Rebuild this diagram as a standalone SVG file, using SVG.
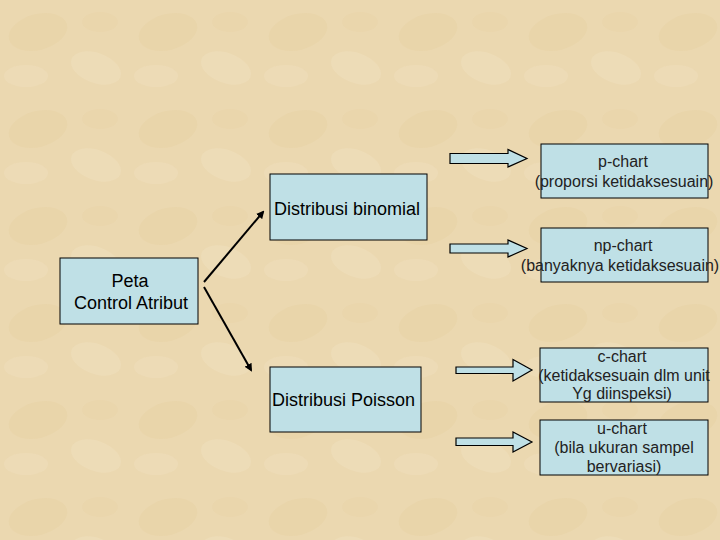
<svg xmlns="http://www.w3.org/2000/svg" width="720" height="540" viewBox="0 0 720 540">
<defs>
<style>
.box{fill:#bfe0e6;stroke:#000;stroke-width:1}
.blk{fill:#bfe0e6;stroke:#000;stroke-width:1.2}
.t{font-family:"Liberation Sans",Arial,sans-serif;font-size:18px;fill:#000}
.s{font-family:"Liberation Sans",Arial,sans-serif;font-size:16px;fill:#222;text-anchor:middle}
.ln{stroke:#000;stroke-width:2;fill:none;marker-end:url(#ah)}
</style>
<marker id="ah" markerWidth="8" markerHeight="8" refX="6" refY="4" orient="auto" markerUnits="userSpaceOnUse">
<path d="M0,0 L8,4 L0,8 Z" fill="#000"/>
</marker>
<pattern id="tex" width="130" height="97" patternUnits="userSpaceOnUse">
<rect width="130" height="97" fill="#ebd8b0"/>
<ellipse cx="38" cy="32" rx="30" ry="18" fill="#e3ca98" opacity="0.25" transform="rotate(-15 38 32)"/>
<ellipse cx="96" cy="68" rx="26" ry="15" fill="#f3e5c8" opacity="0.3" transform="rotate(20 96 68)"/>
<ellipse cx="100" cy="22" rx="18" ry="10" fill="#e4cc9c" opacity="0.2"/>
<ellipse cx="26" cy="76" rx="22" ry="11" fill="#f2e4c6" opacity="0.3"/>
</pattern>
</defs>
<rect width="720" height="540" fill="url(#tex)"/>
<g id="connectors">
<line class="ln" x1="204" y1="282" x2="263" y2="212"/>
<line class="ln" x1="204" y1="287" x2="251" y2="370"/>
<path class="blk" d="M450,153.5 H508 V149.5 L527,158.5 L508,167 V163.5 H450 Z"/>
<path class="blk" d="M450,244 H508 V240 L527,248.5 L508,257 V253 H450 Z"/>
<path class="blk" d="M456,367 H513 V359.5 L532,370 L513,381 V373.5 H456 Z"/>
<path class="blk" d="M456,438 H513 V432 L532,442 L513,452 V445.5 H456 Z"/>
</g>
<g id="peta">
<rect class="box" x="60" y="258" width="138" height="66"/>
<text class="t" x="130" y="287" text-anchor="middle">Peta</text>
<text class="t" x="131" y="309" text-anchor="middle">Control Atribut</text>
</g>
<g id="binomial">
<rect class="box" x="270" y="174" width="157" height="66"/>
<text class="t" x="274" y="215">Distribusi binomial</text>
</g>
<g id="poisson">
<rect class="box" x="270" y="367" width="151" height="65"/>
<text class="t" x="272" y="406">Distribusi Poisson</text>
</g>
<g id="pchart">
<rect class="box" x="541" y="144" width="167" height="54"/>
<text class="s" x="623" y="167">p-chart</text>
<text class="s" x="624" y="187">(proporsi ketidaksesuain)</text>
</g>
<g id="npchart">
<rect class="box" x="541" y="228" width="167" height="54"/>
<text class="s" x="623" y="251">np-chart</text>
<text class="s" x="620" y="271">(banyaknya ketidaksesuain)</text>
</g>
<g id="cchart">
<rect class="box" x="540" y="348" width="168" height="54"/>
<text class="s" x="622" y="362">c-chart</text>
<text class="s" x="624" y="381">(ketidaksesuain dlm unit</text>
<text class="s" x="622" y="399">Yg diinspeksi)</text>
</g>
<g id="uchart">
<rect class="box" x="540" y="420" width="168" height="55"/>
<text class="s" x="622" y="434">u-chart</text>
<text class="s" x="624" y="453">(bila ukuran sampel</text>
<text class="s" x="624" y="472">bervariasi)</text>
</g>
</svg>
